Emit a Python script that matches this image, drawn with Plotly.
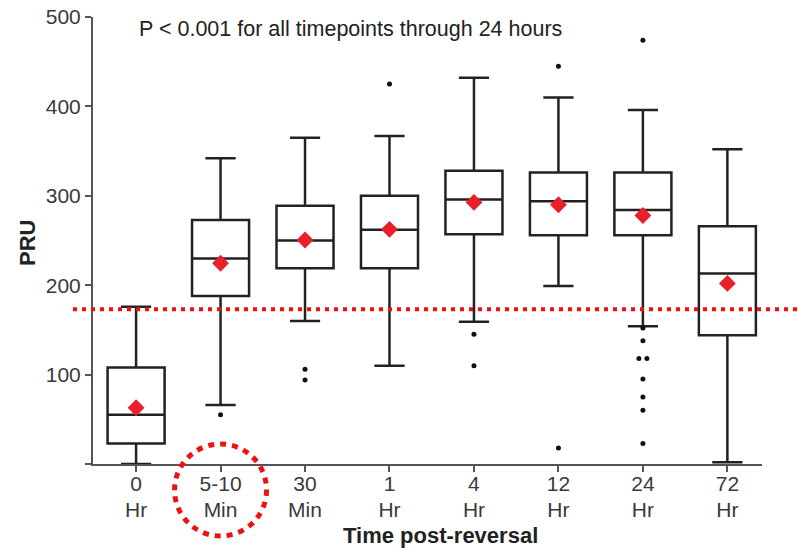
import plotly.graph_objects as go

# ---------------- data ----------------
categories_top = ["0", "5-10", "30", "1", "4", "12", "24", "72"]
categories_bottom = ["Hr", "Min", "Min", "Hr", "Hr", "Hr", "Hr", "Hr"]

q1 = [23, 188, 219, 219, 257, 256, 256, 144]
median = [55, 230, 250, 262, 296, 294, 284, 213]
q3 = [108, 273, 289, 300, 328, 326, 326, 266]
lower_whisker = [0, 66, 160, 110, 159, 199, 154, 2]
upper_whisker = [176, 342, 365, 367, 432, 410, 396, 352]
means = [63, 224.5, 250.5, 262.5, 292.7, 290, 278, 202]

outliers = [
    [],
    [55],
    [106, 94],
    [425],
    [145, 110],
    [445, 18],
    [474, 152, 138, 118, 118, 95, 75, 60, 23],
    [],
]

threshold = 173
annotation_text = "P < 0.001 for all timepoints through 24 hours"
x_title = "Time post-reversal"
y_title = "PRU"
y_tickvals = [0, 100, 200, 300, 400, 500]
y_ticktext = ["", "100", "200", "300", "400", "500"]
highlight_category = 1

# ---------------- layout constants ----------------
W, H = 798, 557
ML, MR, MT, MB = 93, 36, 17, 93
PW, PH = W - ML - MR, H - MT - MB
XR = [-0.51, 7.41]
YR = [0, 500]
FONT = "Arial, 'Liberation Sans', sans-serif"
TXT = "#3a3a3a"
LINE = "#222222"
AX = "#555555"

idx = list(range(len(categories_top)))

fig = go.Figure()

fig.add_trace(go.Box(
    x=idx, q1=q1, median=median, q3=q3,
    lowerfence=lower_whisker, upperfence=upper_whisker,
    width=0.675, whiskerwidth=0.53,
    fillcolor="rgba(255,255,255,0)",
    line=dict(color=LINE, width=2.5),
    boxpoints=False, showlegend=False, hoverinfo="skip",
))

# outliers (dodge duplicate values sideways)
ox, oy = [], []
for i, vals in enumerate(outliers):
    seen = {}
    for v in vals:
        seen[v] = seen.get(v, 0) + 1
    done = {}
    for v in vals:
        n = seen[v]
        k = done.get(v, 0)
        done[v] = k + 1
        off = (k - (n - 1) / 2) * 0.095
        ox.append(i + off)
        oy.append(v)
fig.add_trace(go.Scatter(
    x=ox, y=oy, mode="markers",
    marker=dict(color="#111111", size=5),
    showlegend=False, hoverinfo="skip", cliponaxis=False,
))

# means on overlay axis (also keeps xaxis2 alive)
fig.add_trace(go.Scatter(
    x=idx, y=means, mode="markers", xaxis="x2",
    marker=dict(symbol="diamond", color="#e8202a", size=13, line=dict(width=0)),
    showlegend=False, hoverinfo="skip", cliponaxis=False,
))

def px_to_paper_x(px):
    return (px - ML) / PW

def px_to_paper_y(py):
    return (H - MB - py) / PH

cat_paper_x = (highlight_category - XR[0]) / (XR[1] - XR[0])

shapes = [
    dict(type="line", xref="paper", yref="paper",
         x0=px_to_paper_x(73), x1=px_to_paper_x(800),
         y0=(threshold - YR[0]) / (YR[1] - YR[0]),
         y1=(threshold - YR[0]) / (YR[1] - YR[0]),
         line=dict(color="#ee1111", width=4, dash="4px,5px"), layer="above"),
    dict(type="circle", xref="paper", yref="paper",
         xsizemode="pixel", ysizemode="pixel",
         xanchor=cat_paper_x, yanchor=px_to_paper_y(490),
         x0=-46, x1=46, y0=-46, y1=46,
         line=dict(color="#ee1111", width=5, dash="6px,6px"), layer="above"),
]

annotations = [
    dict(text=annotation_text, xref="paper", yref="paper",
         x=px_to_paper_x(137), y=px_to_paper_y(29), xanchor="left", yanchor="middle",
         showarrow=False, font=dict(family=FONT, size=21.5, color="#222222")),
    dict(text="<b>" + x_title + "</b>", xref="paper", yref="paper",
         x=px_to_paper_x(441), y=px_to_paper_y(535), xanchor="center", yanchor="middle",
         showarrow=False, font=dict(family=FONT, size=22, color="#222222")),
    dict(text="<b>" + y_title + "</b>", xref="paper", yref="paper", textangle=-90,
         x=px_to_paper_x(27), y=px_to_paper_y(243), xanchor="center", yanchor="middle",
         showarrow=False, font=dict(family=FONT, size=22, color="#222222")),
]

fig.update_layout(
    width=W, height=H, autosize=False,
    margin=dict(l=ML, r=MR, t=MT, b=MB, pad=0, autoexpand=False),
    paper_bgcolor="white", plot_bgcolor="white",
    font=dict(family=FONT, size=21, color=TXT),
    shapes=shapes, annotations=annotations,
    xaxis=dict(
        range=XR, tickmode="array", tickvals=idx, ticktext=categories_top,
        showline=True, linecolor=AX, linewidth=2, automargin=False,
        ticks="outside", ticklen=6, tickwidth=2, tickcolor=AX,
        ticklabelstandoff=-6,
        showgrid=False, zeroline=False, tickfont=dict(size=21, color=TXT),
    ),
    xaxis2=dict(
        range=XR, overlaying="x", anchor="y", side="bottom", automargin=False,
        tickmode="array", tickvals=idx, ticktext=categories_bottom,
        showline=False, ticks="", showgrid=False, zeroline=False,
        ticklabelstandoff=31, tickfont=dict(size=21, color=TXT),
    ),
    yaxis=dict(
        range=YR, tickmode="array", tickvals=y_tickvals, ticktext=y_ticktext,
        showline=True, linecolor=AX, linewidth=2, automargin=False,
        ticks="outside", ticklen=6, tickwidth=2, tickcolor=AX,
        showgrid=False, zeroline=False, tickfont=dict(size=21, color=TXT),
    ),
)

fig.write_html("out.html", config={"displayModeBar": False},
               post_script="document.body.style.margin='0px';")
